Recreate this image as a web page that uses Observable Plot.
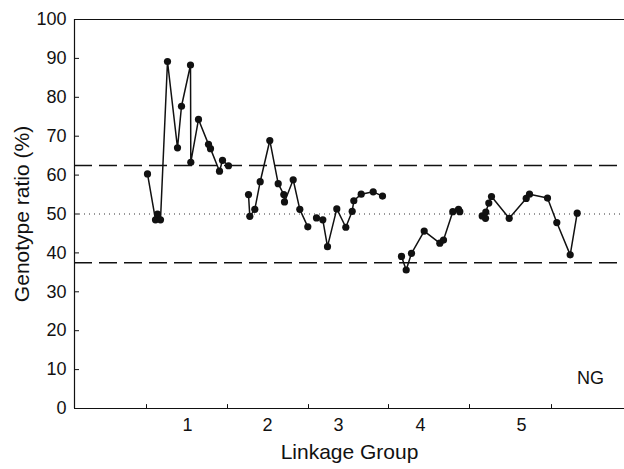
<!DOCTYPE html>
<html>
<head>
<meta charset="utf-8">
<script src="https://cdn.jsdelivr.net/npm/d3@7"></script>
<script src="https://cdn.jsdelivr.net/npm/@observablehq/plot@0.6"></script>
<style>
  html, body { margin: 0; padding: 0; background: #fff; }
  #chart svg { display: block; }
</style>
</head>
<body>
<div id="chart"></div>
<script>
// Marker positions along the genome (arbitrary cumulative map units) and genotype ratios (%)
const lg1Pos   = [73, 81, 83, 86, 93, 103, 107, 116, 116.3, 124, 134, 136, 145, 148, 154];
const lg1Ratio = [60.3, 48.5, 50.0, 48.5, 89.2, 67.0, 77.7, 88.3, 63.3, 74.3, 67.9, 66.8, 61.0, 63.8, 62.4];

const lg2Pos   = [174, 175.3, 180.3, 185.7, 195.3, 203.7, 209.3, 210, 218.7, 225.3, 233.3];
const lg2Ratio = [55.0, 49.4, 51.2, 58.3, 68.9, 57.8, 55.0, 53.1, 58.8, 51.2, 46.7];

const lg3Pos   = [242, 248.3, 253, 262.3, 271.3, 277.7, 279.3, 286.7, 298.7, 308];
const lg3Ratio = [49.0, 48.5, 41.6, 51.3, 46.6, 50.7, 53.4, 55.1, 55.7, 54.6];

const lg4Pos   = [327, 331.7, 337, 349.7, 365.3, 369, 378.3, 384, 385.3];
const lg4Ratio = [39.1, 35.6, 39.9, 45.6, 42.5, 43.3, 50.6, 51.2, 50.6];

const lg5Pos   = [407.7, 411, 411.3, 414.3, 417, 434.7, 451.7, 455, 473, 482.3, 495.7, 502.7];
const lg5Ratio = [49.5, 48.9, 50.5, 52.8, 54.5, 48.9, 54.0, 55.1, 54.1, 47.8, 39.5, 50.2];

const groupNames     = ["1", "2", "3", "4", "5"];
const groupLabelPos  = [113, 193, 264, 346, 447];
const groupTickPos   = [72, 153, 234, 314, 395, 477];
const yTicks         = [0, 10, 20, 30, 40, 50, 60, 70, 80, 90, 100];
const expectedRatio  = [50];
const thresholdRatio = [62.5, 37.5];
const panelLabel     = ["NG"];

const groupsPos   = [lg1Pos, lg2Pos, lg3Pos, lg4Pos, lg5Pos];
const groupsRatio = [lg1Ratio, lg2Ratio, lg3Ratio, lg4Ratio, lg5Ratio];
const markers = groupsPos.flatMap((ps, g) =>
  ps.map((p, i) => ({group: groupNames[g], pos: p, ratio: groupsRatio[g][i]})));

const font = "'Liberation Sans', Arial, Helvetica, sans-serif";

const chart = Plot.plot({
  width: 624,
  height: 469,
  marginLeft: 74,
  marginRight: 0,
  marginTop: 19,
  marginBottom: 61,
  style: {fontFamily: font, background: "#fff", color: "#111"},
  x: {domain: [0, 550]},
  y: {domain: [0, 100]},
  marks: [
    // reference lines
    Plot.ruleY(thresholdRatio, {stroke: "#111", strokeWidth: 1.5, strokeDasharray: "18,7"}),
    Plot.ruleY(expectedRatio, {stroke: "#333", strokeWidth: 1, strokeDasharray: "1,4"}),
    // frame: left axis, bottom axis, top border
    Plot.ruleX([0], {y1: 0, y2: 100, stroke: "#111", strokeWidth: 1.2}),
    Plot.ruleY([0], {stroke: "#111", strokeWidth: 1.2}),
    Plot.ruleY([100], {stroke: "#111", strokeWidth: 1.2}),
    // inward y ticks
    Plot.ruleY(yTicks, {x1: 0, x2: 5, stroke: "#111", strokeWidth: 1}),
    // inward x ticks
    Plot.ruleX(groupTickPos, {y1: 0, y2: 1, stroke: "#111", strokeWidth: 1}),
    Plot.axisY(yTicks, {tickSize: 0, tickPadding: 8, fontSize: 18, label: null, stroke: "none"}),
    Plot.axisX([], {label: null}),
    Plot.text(groupNames, {x: groupLabelPos, y: 0, dy: 17, fontSize: 18, fill: "#111"}),
    // axis titles
    Plot.text(["Genotype ratio (%)"], {frameAnchor: "left", textAnchor: "middle", dx: -52, rotate: -90, fontSize: 21, fill: "#111"}),
    Plot.text(["Linkage Group"], {frameAnchor: "bottom", dy: 50, fontSize: 21, fill: "#111"}),
    // data
    Plot.line(markers, {x: "pos", y: "ratio", z: "group", stroke: "#111", strokeWidth: 1.5}),
    Plot.dot(markers, {x: "pos", y: "ratio", r: 3.6, fill: "#111", stroke: "none"}),
    Plot.text(panelLabel, {x: [516], y: [7.7], fontSize: 18, fill: "#111"})
  ]
});
document.getElementById("chart").appendChild(chart);
</script>
</body>
</html>
